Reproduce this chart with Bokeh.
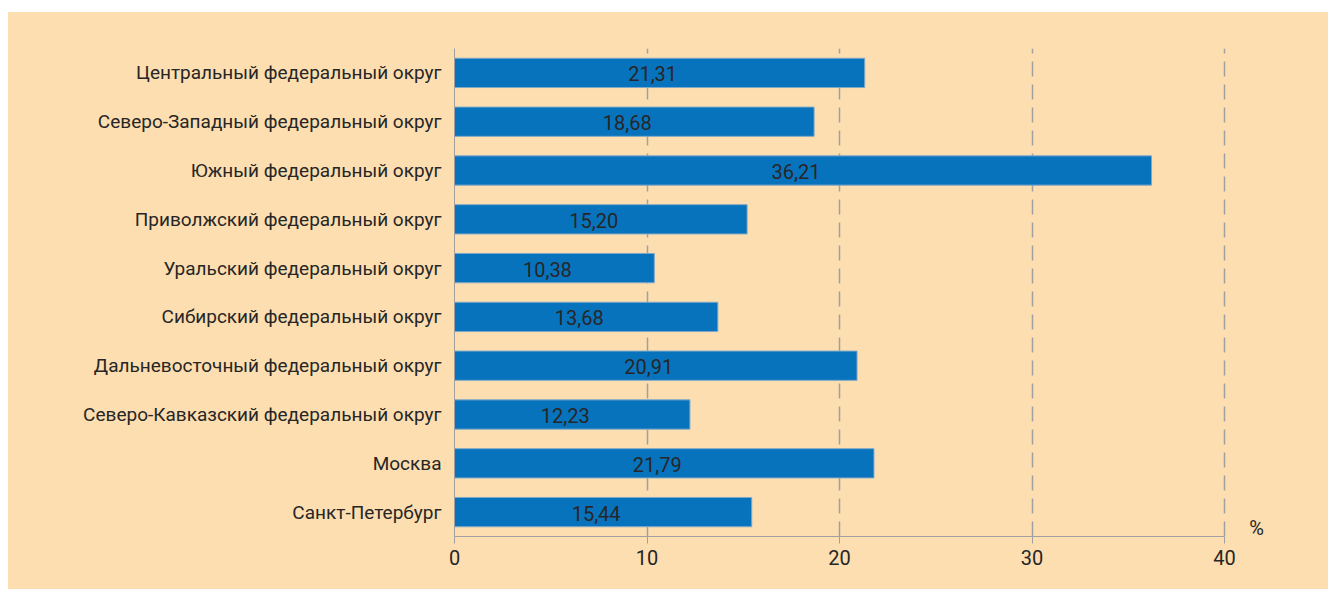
from bokeh.plotting import figure
from bokeh.models import FactorRange, Range1d, FixedTicker, Spacer, ColumnDataSource
from bokeh.layouts import column, row
from bokeh.core.properties import value
from bokeh.embed import file_html
from bokeh.resources import INLINE

categories = [
    "Центральный федеральный округ",
    "Северо-Западный федеральный округ",
    "Южный федеральный округ",
    "Приволжский федеральный округ",
    "Уральский федеральный округ",
    "Сибирский федеральный округ",
    "Дальневосточный федеральный округ",
    "Северо-Кавказский федеральный округ",
    "Москва",
    "Санкт-Петербург",
]
values = [21.31, 18.68, 36.21, 15.20, 10.38, 13.68, 20.91, 12.23, 21.79, 15.44]
x_ticks = [0, 10, 20, 30, 40]
unit_label = "%"

FONT = "Roboto"
TEXT_COLOR = "#262626"
GRID_COLOR = "#A0A0A0"
BG = "#FDDEB0"
BAR = "#0873BD"

labels = [f"{v:.2f}".replace(".", ",") for v in values]
src = ColumnDataSource(dict(cat=categories, val=values, half=[v / 2 for v in values], lab=labels))

# frame: 19.25 px per unit; axis 0..40, frame extends to hold the unit label
FRAME_W = 836
X_END = FRAME_W / 19.25

p = figure(
    width=1320, height=577,
    y_range=FactorRange(factors=categories[::-1], range_padding=0),
    x_range=Range1d(0, X_END),
    output_backend="svg", toolbar_location=None,
    min_border_left=446, min_border_right=1320 - 446 - FRAME_W,
    min_border_top=36, min_border_bottom=53,
)
p.styles = {"background-color": BG}
p.background_fill_color = BG
p.border_fill_color = BG
p.outline_line_color = None

p.hbar(y="cat", right="val", left=0, height=0.6, source=src,
       fill_color=BAR, line_color="#7FA8C8", line_width=1)
p.text(x="half", y="cat", text="lab", source=src, x_offset=-7, y_offset=1,
       text_align="center", text_baseline="middle",
       text_font=value(FONT), text_font_size="20px", text_color=TEXT_COLOR)

# unit label next to the end of the axis
p.text(x=[x_ticks[-1]], y=[categories[-1]], text=[unit_label], x_offset=32, y_offset=16,
       text_align="center", text_baseline="middle",
       text_font=value(FONT), text_font_size="20px", text_color=TEXT_COLOR)

p.xaxis.ticker = FixedTicker(ticks=x_ticks)
p.xaxis.bounds = (x_ticks[0], x_ticks[-1])
p.xaxis.minor_tick_line_color = None
p.xaxis.major_tick_in = 0
p.xaxis.major_tick_out = 7
p.xaxis.axis_line_color = GRID_COLOR
p.xaxis.major_tick_line_color = GRID_COLOR
p.xaxis.major_label_standoff = 6
p.xaxis.major_label_text_font = FONT
p.xaxis.major_label_text_font_size = "20px"
p.xaxis.major_label_text_color = TEXT_COLOR

p.yaxis.major_tick_in = 0
p.yaxis.major_tick_out = 0
p.yaxis.minor_tick_line_color = None
p.yaxis.axis_line_color = GRID_COLOR
p.yaxis.major_label_standoff = 13
p.yaxis.major_label_text_font = FONT
p.yaxis.major_label_text_font_size = "19px"
p.yaxis.major_label_text_color = TEXT_COLOR

p.ygrid.grid_line_color = None
p.xgrid.grid_line_color = GRID_COLOR
p.xgrid.grid_line_dash = "15 8"
p.xgrid.grid_line_width = 1.5

layout = row(Spacer(width=8, height=589),
             column(Spacer(width=1320, height=12), p))
open("out.html", "w").write(file_html(layout, INLINE))
